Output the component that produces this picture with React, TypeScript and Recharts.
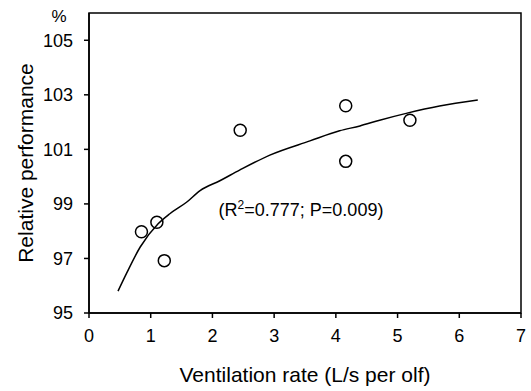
import {
  ComposedChart,
  Line,
  ReferenceArea,
  ReferenceDot,
  Scatter,
  XAxis,
  YAxis,
} from "recharts";

// measured points (ventilation rate, relative performance)
const rates = [0.85, 1.1, 1.22, 2.45, 4.16, 4.16, 5.2];
const performance = [97.98, 98.33, 96.92, 101.7, 102.6, 100.56, 102.07];

// fitted curve
const fitRates = [0.47, 0.61, 0.83, 1.12, 1.31, 1.58, 1.8, 2.12, 2.44, 2.93, 3.58, 4.06, 4.39, 4.71, 5.14, 5.68, 6.3];
const fitValues = [95.8, 96.46, 97.42, 98.27, 98.64, 99.06, 99.49, 99.85, 100.24, 100.79, 101.31, 101.68, 101.86, 102.07, 102.32, 102.59, 102.81];

const xTicks = [0, 1, 2, 3, 4, 5, 6, 7];
const yTicks = [95, 97, 99, 101, 103, 105];

const points = rates.map((x, i) => ({ x, y: performance[i] }));
const curve = fitRates.map((x, i) => ({ x, y: fitValues[i] }));

const font = "'Liberation Sans', Arial, sans-serif";

function YLabel(props: any) {
  const { x, y, height } = props.viewBox;
  const cx = x + 25;
  const cy = y + height / 2;
  return (
    <g fontFamily={font} fill="#000">
      <text
        x={cx}
        y={cy}
        fontSize={21}
        textAnchor="middle"
        dominantBaseline="central"
        transform={`rotate(-90, ${cx}, ${cy})`}
      >
        Relative performance
      </text>
      <text x={x + 59} y={y + 9} fontSize={17} textAnchor="middle">
        %
      </text>
    </g>
  );
}

function XLabel(props: any) {
  const { x, y, width } = props.viewBox;
  return (
    <text
      x={x + width / 2}
      y={y + 69}
      fontSize={21}
      fontFamily={font}
      fill="#000"
      textAnchor="middle"
    >
      Ventilation rate (L/s per olf)
    </text>
  );
}

function FitNote(props: any) {
  const { x, y } = props.viewBox;
  return (
    <text x={x} y={y} fontSize={18} fontFamily={font} fill="#000">
      (R
      <tspan dy={-7} fontSize={12}>
        2
      </tspan>
      <tspan dy={7}>=0.777; P=0.009)</tspan>
    </text>
  );
}

export default function App() {
  const tick = { fill: "#000", fontSize: 18, fontFamily: font };
  return (
    <div style={{ position: "absolute", left: 0, top: 0 }}>
      <ComposedChart
        width={531}
        height={391}
        margin={{ top: 13, right: 10, bottom: 0, left: 0 }}
      >
        <XAxis
          dataKey="x"
          type="number"
          domain={[0, 7]}
          ticks={xTicks}
          height={78}
          tick={tick}
          tickSize={5}
          tickMargin={11}
          axisLine={{ stroke: "#000", strokeWidth: 1.5 }}
          tickLine={{ stroke: "#000", strokeWidth: 1.5 }}
          label={{ content: XLabel }}
        />
        <YAxis
          type="number"
          domain={[95, 106]}
          ticks={yTicks}
          allowDataOverflow
          width={89}
          tick={tick}
          tickSize={5}
          tickMargin={11}
          axisLine={{ stroke: "#000", strokeWidth: 1.5 }}
          tickLine={{ stroke: "#000", strokeWidth: 1.5 }}
          label={{ content: YLabel }}
        />
        {/* plot frame */}
        <ReferenceArea
          x1={0}
          x2={7}
          y1={95}
          y2={106}
          fill="none"
          fillOpacity={0}
          stroke="#000"
          strokeWidth={1.5}
          ifOverflow="visible"
        />
        <Line
          data={curve}
          dataKey="y"
          type="monotone"
          stroke="#000"
          strokeWidth={1.5}
          dot={false}
          activeDot={false}
          isAnimationActive={false}
        />
        <Scatter
          data={points}
          dataKey="y"
          fill="none"
          stroke="#000"
          strokeWidth={1.5}
          shape={(p: any) => (
            <circle cx={p.cx} cy={p.cy} r={6} fill="none" stroke="#000" strokeWidth={1.5} />
          )}
          isAnimationActive={false}
        />
        <ReferenceDot
          x={2.1}
          y={98.54}
          r={0}
          fill="none"
          stroke="none"
          label={{ content: FitNote }}
        />
      </ComposedChart>
    </div>
  );
}
